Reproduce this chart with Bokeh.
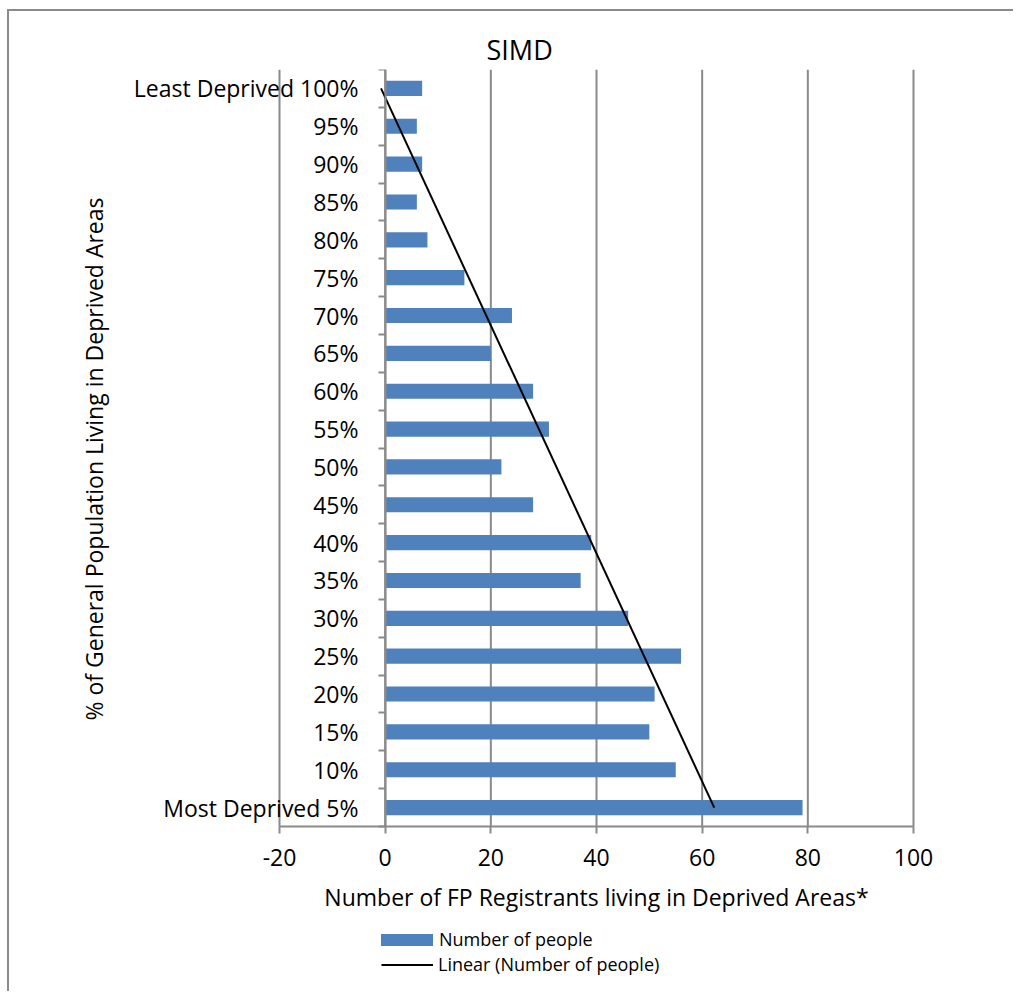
import numpy as np
from bokeh.plotting import figure
from bokeh.models import FixedTicker, Range1d, Legend, LegendItem, LinearAxis, Title
from bokeh.embed import file_html
from bokeh.resources import INLINE

# ---- data ----
categories = ["Most Deprived 5%", "10%", "15%", "20%", "25%", "30%", "35%", "40%",
              "45%", "50%", "55%", "60%", "65%", "70%", "75%", "80%", "85%", "90%",
              "95%", "Least Deprived 100%"]
people = [79, 55, 50, 51, 56, 46, 37, 39, 28, 22, 31, 28, 20, 24, 15, 8, 6, 7, 6, 7]
x_ticks = [-20, 0, 20, 40, 60, 80, 100]
x_tick_labels = ["-20", "0", "20", "40", "60", "80", "100"]

pos = list(range(1, len(categories) + 1))
# Linear trend line (least squares fit, as the spreadsheet's "Linear" trendline)
slope, intercept = np.polyfit(pos, people, 1)
trend_y = [pos[0], pos[-1]]
trend_x = [slope * y + intercept for y in trend_y]

FONT = "Open Sans"
GRAY = "#8a8a8a"
BLUE = "#4F81BD"

# layout: the plot area is 634 x 757 px; the frame is padded around it so the
# pinned x axis, its labels and the legend are drawn inside the frame
PLOT_W, PLOT_H = 634, 757
PAD_L, PAD_R = 30, 30
FRAME_W = PLOT_W + PAD_L + PAD_R
FRAME_H = 916
x_lo, x_hi = x_ticks[0], x_ticks[-1]
x_unit = PLOT_W / (x_hi - x_lo)
y_lo = pos[0] - 0.5
y_hi = pos[-1] + 0.5
y_start = y_lo - (FRAME_H - PLOT_H) * (y_hi - y_lo) / PLOT_H

p = figure(frame_width=FRAME_W, frame_height=FRAME_H,
           min_border_left=270 - PAD_L, min_border_right=100 - PAD_R,
           min_border_top=58, min_border_bottom=6,
           x_range=Range1d(x_lo - PAD_L / x_unit, x_hi + PAD_R / x_unit),
           y_range=Range1d(y_start, y_hi),
           output_backend="svg", toolbar_location=None)
p.styles = {"margin-left": "7px", "margin-top": "9px",
            "border-left": "2px solid #8a8a8a", "border-top": "2px solid #8a8a8a"}
p.outline_line_color = None
p.background_fill_color = "white"
p.border_fill_color = "white"
p.xgrid.visible = False
p.ygrid.visible = False

# vertical grid lines over the category area
p.segment(x0=x_ticks, y0=[y_lo] * len(x_ticks), x1=x_ticks, y1=[y_hi] * len(x_ticks),
          line_color=GRAY, line_width=2, level="underlay")

bars = p.hbar(y=pos, right=people, left=0, height=0.4, fill_color=BLUE, line_color=None)
trend = p.line(trend_x, trend_y, line_color="black", line_width=2)

# title
p.title.text = "SIMD"
p.title.align = "left"
p.title.offset = 207 + PAD_L
p.title.text_font = FONT
p.title.text_font_size = "27px"
p.title.text_font_style = "normal"
p.title.text_color = "black"
p.title.standoff = 4

# x axis pinned at the bottom of the category area
xa = p.xaxis[0]
xa.fixed_location = y_lo
xa.bounds = (x_lo, x_hi)
xa.ticker = FixedTicker(ticks=x_ticks)
xa.major_label_overrides = {t: s for t, s in zip(x_ticks, x_tick_labels)}
xa.axis_line_color = GRAY
xa.axis_line_width = 2
xa.major_tick_line_color = GRAY
xa.major_tick_line_width = 2
xa.major_tick_out = 7
xa.major_tick_in = 0
xa.minor_tick_line_color = None
xa.major_label_text_font = FONT
xa.major_label_text_font_size = "23px"
xa.major_label_text_color = "black"
xa.major_label_standoff = 15
xa.axis_label = "Number of FP Registrants living in Deprived Areas*"
xa.axis_label_text_font = FONT
xa.axis_label_text_font_size = "23px"
xa.axis_label_text_font_style = "normal"
xa.axis_label_text_color = "black"
xa.axis_label_standoff = 12

# y axis category labels (ending just left of x = 0)
ya = p.yaxis[0]
ya.ticker = FixedTicker(ticks=pos)
ya.major_label_overrides = {v: c for v, c in zip(pos, categories)}
ya.axis_line_color = None
ya.major_tick_line_color = None
ya.minor_tick_line_color = None
ya.major_tick_out = 0
ya.major_tick_in = 0
ya.major_label_text_font = FONT
ya.major_label_text_font_size = "23px"
ya.major_label_text_color = "black"
ya.major_label_standoff = -(79 + PAD_L)

# y axis line with category boundary ticks, crossing at x = 0
yline = LinearAxis(fixed_location=0, bounds=(y_lo, y_hi),
                   ticker=FixedTicker(ticks=pos, minor_ticks=[v - 0.5 for v in pos] + [y_hi]),
                   axis_line_color=GRAY, axis_line_width=2,
                   major_tick_line_color=None, major_tick_out=0, major_tick_in=0,
                   minor_tick_line_color=GRAY, minor_tick_line_width=2,
                   minor_tick_out=7, minor_tick_in=0,
                   major_label_text_alpha=0, major_label_text_font_size="1px")
p.add_layout(yline, "left")

# y axis title
p.add_layout(Title(text="% of General Population Living in Deprived Areas",
                   align="right", offset=128, vertical_align="middle", standoff=39,
                   text_font=FONT, text_font_size="23px", text_font_style="normal",
                   text_color="black"), "left")

# legend, below the axis title
leg1 = Legend(items=[LegendItem(label="Number of people", renderers=[bars])],
              location=(95 + PAD_L, 34), padding=0, margin=0, spacing=0,
              glyph_width=65, glyph_height=15, label_height=15, label_standoff=0,
              label_text_font=FONT, label_text_font_size="18px", label_text_color="black",
              background_fill_alpha=0, border_line_color=None)
leg2 = Legend(items=[LegendItem(label="Linear (Number of people)", renderers=[trend])],
              location=(102 + PAD_L, 9), padding=0, margin=0, spacing=0,
              glyph_width=52, glyph_height=15, label_height=15, label_standoff=5,
              label_text_font=FONT, label_text_font_size="18px", label_text_color="black",
              background_fill_alpha=0, border_line_color=None)
p.add_layout(leg1)
p.add_layout(leg2)

open("out.html", "w").write(file_html(p, INLINE))
